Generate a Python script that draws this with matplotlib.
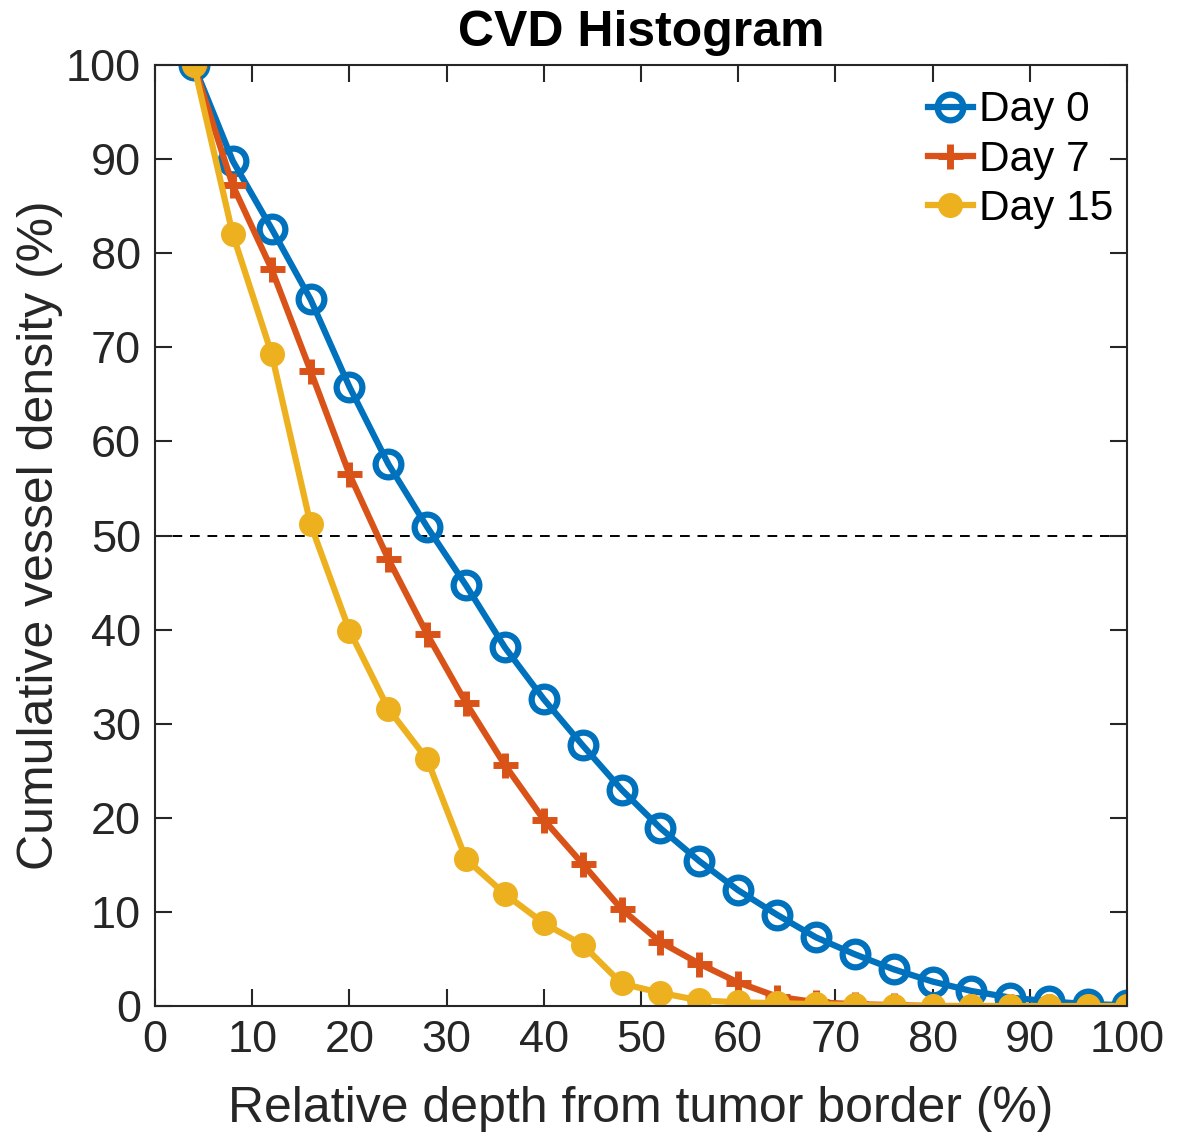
import matplotlib
matplotlib.use("Agg")
import matplotlib.pyplot as plt
import numpy as np

plt.rcParams['font.family'] = ['Liberation Sans', 'DejaVu Sans']

depth = [4, 8, 12, 16, 20, 24, 28, 32, 36, 40, 44, 48, 52, 56, 60, 64, 68, 72, 76, 80, 84, 88, 92, 96, 100]
day0 = [100, 89.8, 82.6, 75.1, 65.8, 57.6, 50.9, 44.7, 38.1, 32.6, 27.7, 23.0, 18.9, 15.4, 12.3,
        9.7, 7.3, 5.5, 3.9, 2.6, 1.6, 0.9, 0.5, 0.2, 0.1]
day7 = [100, 87.2, 78.3, 67.5, 56.5, 47.5, 39.5, 32.2, 25.6, 19.8, 15.1, 10.3, 6.8, 4.5, 2.5,
        1.0, 0.4, 0.2, 0.1, 0.0, 0.0, 0.0, 0.0, 0.0, 0.0]
day15 = [100, 82.0, 69.3, 51.2, 39.9, 31.6, 26.2, 15.6, 11.9, 8.8, 6.5, 2.4, 1.4, 0.6, 0.4,
         0.3, 0.2, 0.1, 0.05, 0.0, 0.0, 0.0, 0.0, 0.0, 0.0]
labels = ["Day 0", "Day 7", "Day 15"]

c0 = '#0072BD'
c7 = '#D95319'
c15 = '#EDB120'
axcol = '#262626'

fig = plt.figure(figsize=(11.78, 11.36), dpi=100)
ax = fig.add_axes([0.1316, 0.1144, 0.8251, 0.8284])

ax.plot(depth, day0, color=c0, lw=4.5, marker='o', ms=18.5, mew=4.5, mfc='none', label=labels[0])
ax.plot(depth, day7, color=c7, lw=4.5, marker='+', ms=18, mew=5, label=labels[1])
ax.plot(depth, day15, color=c15, lw=4.5, marker='o', ms=17, mec=c15, mfc=c15, label=labels[2])
ax.axhline(50, color='black', lw=1.4, ls=(0, (5, 4)), zorder=1)

ax.set_xlim(0, 100)
ax.set_ylim(0, 100)
ax.set_xticks(np.arange(0, 101, 10))
ax.set_yticks(np.arange(0, 101, 10))
ax.tick_params(direction='in', length=12, width=1.5, top=True, right=True,
               labelsize=32.5, colors=axcol, pad=10)
for s in ax.spines.values():
    s.set_color(axcol)
    s.set_linewidth(1.5)

ax.set_xlabel('Relative depth from tumor border (%)', fontsize=36, color=axcol, labelpad=18)
ax.set_ylabel('Cumulative vessel density (%)', fontsize=36, color=axcol, labelpad=2)
ax.set_title('CVD Histogram', fontsize=36, fontweight='bold', pad=14)

leg = ax.legend(loc='upper right', fontsize=30.5, frameon=False, handlelength=1.05,
                handletextpad=0.15, labelspacing=0.22, borderaxespad=0.2,
                bbox_to_anchor=(1.012, 1.0))

fig.savefig('out.png', dpi=100)
